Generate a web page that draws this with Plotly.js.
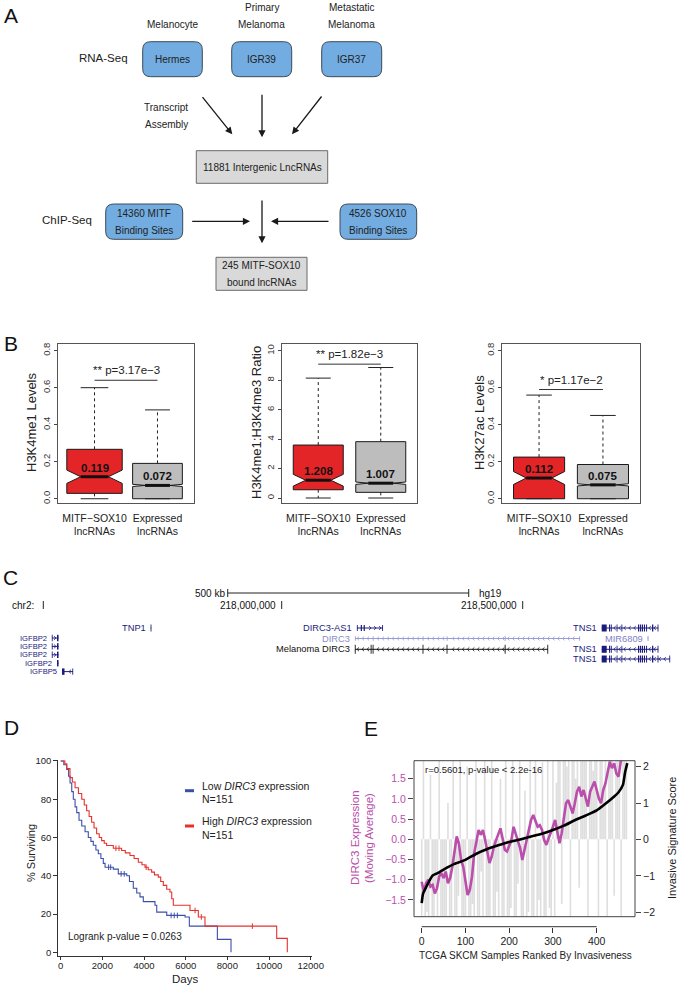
<!DOCTYPE html>
<html><head><meta charset="utf-8">
<script src="https://cdn.plot.ly/plotly-3.0.1.min.js"></script>
<style>html,body{margin:0;padding:0;background:#fff}#chart{width:680px;height:989px}</style>
</head><body><div id="chart"></div>
<script>
// ================= DATA =================
// Panel A (workflow)
const sampleTypes = ['Melanocyte', 'Primary Melanoma', 'Metastatic Melanoma'];
const cellLines = ['Hermes', 'IGR39', 'IGR37'];
const lncSets = ['11881 Intergenic LncRNAs', '245 MITF-SOX10<br>bound lncRNAs'];
const chipSets = ['14360 MITF<br>Binding Sites', '4526 SOX10<br>Binding Sites'];
const stepLabels = ['RNA-Seq', 'ChIP-Seq', 'Transcript<br>Assembly'];

// Panel B (notched box plots, summary statistics)
const boxGroups = ['MITF\u2212SOX10<br>lncRNAs', 'Expressed<br>lncRNAs'];
const bTitles = ['H3K4me1 Levels', 'H3K4me1:H3K4me3 Ratio', 'H3K27ac Levels'];
const bPvalues = ['** p=3.17e\u22123', '** p=1.82e\u22123', '* p=1.17e\u22122'];
const bMedian = [[0.119, 0.072], [1.208, 1.007], [0.112, 0.075]];
const bMedianText = [['0.119', '0.072'], ['1.208', '1.007'], ['0.112', '0.075']];
const bQ1 = [[0.029, 0.0], [0.56, 0.385], [0.0, 0.0]];
const bQ3 = [[0.267, 0.191], [3.6, 3.83], [0.225, 0.185]];
const bLower = [[0, 0], [0, 0], [0, 0]];
const bUpper = [[0.60, 0.48], [8.15, 8.87], [0.56, 0.45]];
const bNotch = [[0.036, 0.006], [0.40, 0.08], [0.035, 0.006]];
const bSigY = [0.64, 9.1, 0.59];
const bTicks = [[0, 0.2, 0.4, 0.6, 0.8], [0, 2, 4, 6, 8, 10], [0, 0.2, 0.4, 0.6, 0.8]];

// Panel C (genome browser, chr2 hg19)
const geneNames = ['IGFBP2', 'IGFBP2', 'IGFBP2', 'IGFBP2', 'IGFBP5', 'TNP1', 'DIRC3-AS1', 'DIRC3', 'Melanoma DIRC3', 'TNS1', 'MIR6809', 'TNS1', 'TNS1'];
const geneStart = [217523400, 217523400, 217523400, 217533800, 217544200, 217728300, 218156200, 218152100, 218152100, 218663900, 218759500, 218663900, 218663900];
const geneEnd = [217537000, 217537000, 217537000, 217537000, 217567000, 217729400, 218210200, 218618900, 218552500, 218781400, 218760500, 218781400, 218805600];
const geneStrand = ['+', '+', '+', '+', '-', '-', '+', '-', '-', '-', '-', '-', '-'];
const tns1Exons = [[218663900, 218674300], [218679100, 218681500], [218683000, 218684700], [218695000, 218696500], [218705000, 218706500], [218739200, 218741500], [218743000, 218745400], [218747000, 218749600], [218751500, 218753800], [218756000, 218758000], [218768300, 218771000], [218780000, 218781400]];
const geneExons = [
  [[217523400, 217524400], [217533800, 217537000]],
  [[217523400, 217524400], [217533800, 217537000]],
  [[217523400, 217524400], [217533800, 217537000]],
  [[217533800, 217537000]],
  [[217544200, 217549400], [217566000, 217567000]],
  [[217728300, 217729400]],
  [[218156200, 218157500], [218164000, 218166500], [218170000, 218172500], [218208500, 218210200]],
  [[218152100, 218153500], [218189000, 218190500], [218292500, 218294000], [218342500, 218344000], [218463000, 218464500], [218617500, 218618900]],
  [[218152100, 218153000], [218185000, 218186000], [218189000, 218190200], [218292500, 218293800], [218342500, 218343500], [218463000, 218464200], [218551500, 218552500]],
  tns1Exons,
  [[218759500, 218760500]],
  tns1Exons,
  tns1Exons.concat([[218804600, 218805600]])
];
const chromName = 'chr2:';
const chromTicks = [218000000, 218500000];
const chromTickText = ['218,000,000', '218,500,000'];
const scaleBar = {start: 217888000, length: 500000, label: '500 kb', assembly: 'hg19'};

// Panel D (Kaplan-Meier)
const kmLowDays = [0, 150, 290, 380, 450, 530, 605, 690, 770, 880, 1010, 1170, 1325, 1450, 1565, 1690, 1805, 1930, 2045, 2130, 2525, 2765, 3170, 3300, 3485, 3650, 3806, 3965, 4526, 4610, 5090, 5970, 6175, 7520, 8175];
const kmLowSurv = [100, 98, 95.5, 92, 88.5, 84, 80, 76, 73, 69, 66, 63, 60, 58, 56, 53.5, 51.5, 49, 46.5, 44.5, 43.5, 41, 40, 37, 33.5, 31, 29, 26.5, 24.6, 21, 19.3, 18.5, 13.7, 6.8, 0];
const kmHighDays = [0, 200, 290, 446, 560, 690, 850, 1010, 1130, 1245, 1365, 1485, 1600, 1725, 1850, 1965, 2090, 2205, 2525, 2925, 3100, 3325, 3525, 3725, 3900, 4045, 4200, 4365, 4500, 4685, 4800, 4925, 5090, 5245, 5330, 5405, 6206, 6606, 6926, 10368, 10877];
const kmHighSurv = [100, 98.5, 96, 91.3, 89, 86, 83, 80, 77, 74, 71, 68, 65, 62, 60, 58.4, 57, 55.8, 54.4, 53.2, 52, 50.6, 49, 47.1, 45.8, 44.5, 43.2, 41.9, 40.5, 39.3, 37, 35, 33, 31.5, 28, 24.6, 21.9, 18.5, 13.7, 7.3, 0];
const censorLowDays = [2300, 2400, 2900, 3050, 5300, 5450, 5600];
const censorLowSurv = [44.5, 44.5, 41, 41, 19.3, 19.3, 19.3];
const censorHighDays = [2650, 2800, 4100, 6450, 6750, 9200];
const censorHighSurv = [54.4, 54.4, 44.5, 21.9, 18.5, 13.7];
const kmNames = ['Low <i>DIRC3</i> expression', 'High <i>DIRC3</i> expression'];
const kmN = ['N=151', 'N=151'];
const logrankText = 'Logrank p-value = 0.0263';

// Panel E (ranked samples)
const sampleExpr = [
  -2.4, 2.2, -2.6, -1.8, -2.5, 1.6, -2.3, -2.7, -1.2, -2.4, 2.5, -2.2, -2.6, -1.9, -2.5, 0.9, -2.3, -2.6, 2.3, -2.1,
  -2.5, -1.4, 2.4, -2.6, -2.2, -2.5, 1.8, -2.4, -2.7, -1.6, -2.3, 2.6, -2.5, -2.1, -0.8, -2.4, 2.1, -2.6, -2.3, -1.9,
  2.4, -2.5, -2.2, -1.3, -2.6, 1.5, -2.4, -2.5, 2.6, -2.1, -2.3, -1.7, 2.2, -2.6, -2.4, -1.1, 2.5, -2.2, -2.5, 1.2,
  -2.4, -1.8, 2.3, -2.6, -2.1, 2.5, -2.4, -1.5, -2.3, 1.9, -2.5, -2.2, 2.6, -1.7, -2.4, 2.2, -2.6, 1.4,
  2.4, 2.6, -1.6, 2.2, 2.5, 1.8, 2.6, -2.3, 2.1, 2.4, 1.5, 2.6, -1.2, 2.3, 2.5, 2.0, 2.6, -2.4, 2.2, 2.5,
  1.7, 2.6, 2.3, -1.9, 2.5, 2.4, 1.3, 2.6, -2.2, 2.3, 2.5, 2.6, -1.4, 2.4, 2.2, 2.6, -2.5, 2.3, 2.6, 2.4];
const sampleExprStep = 4;
const movAvg = [
  -1.05, -1.3, -1.09, -1.0, -1.17, -1.13, -1.34, -1.21, -0.92, -0.84,
  -0.96, -0.80, -1.09, -0.96, -0.68, -0.35, 0.07, -0.10, -0.51, -0.68,
  -1.0, -1.38, -1.25, -0.92, -0.35, -0.02, 0.23, 0.11, 0.23, -0.02,
  -0.35, -0.59, -0.43, -0.18, -0.02, 0.15, 0.27, 0.02, -0.26, -0.30,
  -0.18, -0.02, 0.31, 0.15, -0.02, -0.22, -0.51, -0.26, -0.02, 0.23,
  0.48, 0.60, 0.44, 0.31, 0.35, 0.23, -0.02, -0.14, 0.02, 0.15,
  0.31, 0.48, 0.15, -0.10, 0.15, 0.48, 0.89, 0.97, 0.77, 0.64,
  0.89, 1.18, 1.30, 1.06, 1.22, 1.01, 0.81, 1.18, 1.30, 1.43,
  1.22, 1.01, 0.89, 1.22, 1.38, 1.63, 1.92, 1.76, 1.88, 1.63,
  1.55, 1.92, 2.13];
const movAvgStep = 5;
const invRank = [0, 3, 10, 20, 25, 40, 60, 75, 100, 125, 150, 175, 200, 225, 250, 275, 300, 325, 350, 375, 400, 420, 440, 450, 460, 465, 470];
const invScore = [-1.75, -1.49, -1.31, -1.08, -0.99, -0.90, -0.76, -0.67, -0.56, -0.39, -0.26, -0.16, -0.07, 0.0, 0.08, 0.16, 0.26, 0.38, 0.53, 0.66, 0.8, 0.98, 1.18, 1.3, 1.5, 1.85, 2.1];
const eCorrText = 'r=0.5601, p-value < 2.2e-16';
const eLeftTitle = ['DIRC3 Expression', '(Moving Average)'];
const eRightTitle = 'Invasive Signature Score';
const eXTitle = 'TCGA SKCM Samples Ranked By Invasiveness';

// ================= HELPERS =================
const W = 680, H = 989;
const PX = p => p / W, PY = p => 1 - p / H;
const hdom = (a, b) => [PX(a), PX(b)];
const vdom = (top, bot) => [PY(bot), PY(top)];
const FONT = 'Liberation Sans, Arial, sans-serif';
const NARROW = 'Liberation Sans Narrow, Arial Narrow, Liberation Sans, sans-serif';
const traces = [], shapes = [], annotations = [];
function txt(text, x, y, o) {
  const a = {text: text, x: PX(x), y: PY(y), xref: 'paper', yref: 'paper', showarrow: false,
    xanchor: 'center', yanchor: 'middle', font: {family: FONT, size: 12, color: '#222'}};
  return Object.assign(a, o || {});
}
function roundRect(x0, y0, x1, y1, r) {
  const X = PX, Y = PY;
  return `M${X(x0 + r)},${Y(y0)} L${X(x1 - r)},${Y(y0)} Q${X(x1)},${Y(y0)} ${X(x1)},${Y(y0 + r)} ` +
    `L${X(x1)},${Y(y1 - r)} Q${X(x1)},${Y(y1)} ${X(x1 - r)},${Y(y1)} L${X(x0 + r)},${Y(y1)} ` +
    `Q${X(x0)},${Y(y1)} ${X(x0)},${Y(y1 - r)} L${X(x0)},${Y(y0 + r)} Q${X(x0)},${Y(y0)} ${X(x0 + r)},${Y(y0)} Z`;
}
function arrow(tx, ty, hx, hy) {
  annotations.push({text: '', x: PX(hx), y: PY(hy), xref: 'paper', yref: 'paper', showarrow: true,
    ax: tx - hx, ay: ty - hy, axref: 'pixel', ayref: 'pixel', arrowhead: 2, arrowsize: 1.1,
    arrowwidth: 1.3, arrowcolor: '#1a1a1a'});
}
const layout = {
  width: W, height: H, margin: {l: 0, r: 0, t: 0, b: 0}, paper_bgcolor: '#fff', plot_bgcolor: 'rgba(0,0,0,0)',
  showlegend: false, hovermode: false, font: {family: FONT, size: 11, color: '#222'}, boxmode: 'overlay'
};
// panel letters
[['A', 2, 16], ['B', 2, 343], ['C', 1, 577], ['D', 2, 727], ['E', 362, 728]].forEach(l =>
  annotations.push(txt(l[0], l[1], l[2], {xanchor: 'left', font: {family: FONT, size: 21, color: '#111'}})));

// ================= PANEL A =================
const blue = '#72ace0', grayBox = '#d9d9d9';
const aFont = {family: FONT, size: 10, color: '#222'};
const cellBoxX = [[142.7, 202.3], [231.7, 291.7], [321.7, 381.7]];
cellLines.forEach((c, i) => {
  const [x0, x1] = cellBoxX[i];
  shapes.push({type: 'path', path: roundRect(x0, 41.7, x1, 76.7, 8), xref: 'paper', yref: 'paper', fillcolor: blue, line: {color: '#3d4a56', width: 1}});
  annotations.push(txt(c, (x0 + x1) / 2, 59, {font: aFont}));
  const words = sampleTypes[i].split(' ');
  words.reverse().forEach((w, k) => annotations.push(txt(w, (x0 + x1) / 2, 24.7 - 17.4 * k, {font: aFont})));
});
annotations.push(txt(stepLabels[0], 103.3, 58.3, {font: {family: FONT, size: 11.5, color: '#222'}}));
annotations.push(txt(stepLabels[1], 66.7, 220, {font: {family: FONT, size: 11.5, color: '#222'}}));
stepLabels[2].split('<br>').forEach((w, k) => annotations.push(txt(w, 166.3, 107.3 + 17.4 * k, {font: aFont})));
const chipBoxX = [[105.7, 182.7], [340, 416.7]];
chipSets.forEach((c, i) => {
  const [x0, x1] = chipBoxX[i];
  shapes.push({type: 'path', path: roundRect(x0, 204, x1, 239.3, 8), xref: 'paper', yref: 'paper', fillcolor: blue, line: {color: '#3d4a56', width: 1}});
  c.split('<br>').forEach((w, k) => annotations.push(txt(w, (x0 + x1) / 2, 213.3 + 17.4 * k, {font: aFont})));
});
const lncBox = [[196.3, 150.7, 327.7, 183.3], [216, 257.3, 307, 290.3]];
lncSets.forEach((c, i) => {
  const [x0, y0, x1, y1] = lncBox[i];
  shapes.push({type: 'rect', xref: 'paper', yref: 'paper', x0: PX(x0), x1: PX(x1), y0: PY(y1), y1: PY(y0), fillcolor: grayBox, line: {color: '#6b6b6b', width: 1}});
  const lines = c.split('<br>');
  lines.forEach((w, k) => annotations.push(txt(w, (x0 + x1) / 2, (y0 + y1) / 2 + (k - (lines.length - 1) / 2) * 17.6, {font: aFont})));
});
arrow(201.3, 95.7, 232.3, 134.3);
arrow(262, 93.3, 262, 137.3);
arrow(322.7, 95, 292, 134.3);
arrow(190.7, 221.3, 250, 221.3);
arrow(330, 221.3, 271, 221.3);
arrow(262, 199, 262, 243.3);

// ================= PANEL B =================
const bAxisPx = [[58, 194], [282, 417], [502, 640]];
const bRanges = [[-0.023, 0.836], [-0.34, 10.47], [-0.023, 0.836]];
const bBoxWidths = [[0.88, 0.79], [0.8, 0.8], [0.8, 0.8]];
const bFill = ['#e42528', '#bdbdbd'];
const bTitleX = [32, 257, 480];
for (let p = 0; p < 3; p++) {
  const sfx = p === 0 ? '' : String(p + 1);
  const xa = 'x' + sfx, ya = 'y' + sfx;
  layout['xaxis' + sfx] = {domain: hdom(bAxisPx[p][0], bAxisPx[p][1]), range: [0.42, 2.58], tickvals: [1, 2], ticktext: boxGroups,
    ticks: '', ticklabelstandoff: 5, showline: true, mirror: true, linecolor: '#555', linewidth: 1, zeroline: false, showgrid: false,
    tickfont: {family: FONT, size: 10.5, color: '#222'}, anchor: ya, fixedrange: true};
  layout['yaxis' + sfx] = {domain: vdom(344, 503), range: bRanges[p], tickvals: bTicks[p], tickformat: p === 1 ? 'd' : '.1f',
    tickangle: -90, ticks: 'outside', ticklen: 3, tickcolor: '#444', showline: true, mirror: true, linecolor: '#555', linewidth: 1,
    zeroline: false, showgrid: false, tickfont: {family: FONT, size: 9.5, color: '#333'}, anchor: xa, fixedrange: true};
  const wx = [], wy = [], cx = [], cy = [], mx = [], my = [];
  for (let g = 0; g < 2; g++) {
    const c = g + 1, w = bBoxWidths[p][g];
    traces.push({type: 'box', x: [c], q1: [bQ1[p][g]], median: [bMedian[p][g]], q3: [bQ3[p][g]],
      lowerfence: [bQ1[p][g]], upperfence: [bQ3[p][g]], notchspan: [bNotch[p][g]], notched: true, notchwidth: 0.25,
      width: w, fillcolor: bFill[g], line: {color: '#1a1a1a', width: 1}, whiskerwidth: 0, boxpoints: false,
      xaxis: xa, yaxis: ya, hoverinfo: 'skip'});
    wx.push(c, c, null, c, c, null);
    wy.push(bQ3[p][g], bUpper[p][g], null, bQ1[p][g], bLower[p][g], null);
    cx.push(c - w / 4, c + w / 4, null, c - w / 4, c + w / 4, null);
    cy.push(bUpper[p][g], bUpper[p][g], null, bLower[p][g], bLower[p][g], null);
    mx.push(c - w / 4, c + w / 4, null);
    my.push(bMedian[p][g], bMedian[p][g], null);
    annotations.push({text: '<b>' + bMedianText[p][g] + '</b>', x: c, y: bMedian[p][g], xref: xa, yref: ya, yshift: 9,
      showarrow: false, font: {family: FONT, size: 11.5, color: '#111'}});
  }
  traces.push({type: 'scatter', mode: 'lines', x: wx, y: wy, xaxis: xa, yaxis: ya, line: {color: '#222', width: 1, dash: '3px,3px'}, hoverinfo: 'skip'});
  traces.push({type: 'scatter', mode: 'lines', x: cx, y: cy, xaxis: xa, yaxis: ya, line: {color: '#222', width: 1}, hoverinfo: 'skip'});
  traces.push({type: 'scatter', mode: 'lines', x: mx, y: my, xaxis: xa, yaxis: ya, line: {color: '#111', width: 3}, hoverinfo: 'skip'});
  traces.push({type: 'scatter', mode: 'lines', x: [1, 2], y: [bSigY[p], bSigY[p]], xaxis: xa, yaxis: ya, line: {color: '#333', width: 1}, hoverinfo: 'skip'});
  annotations.push({text: bPvalues[p], x: 1.5, y: bSigY[p], xref: xa, yref: ya, yshift: 10, showarrow: false,
    font: {family: FONT, size: 11.5, color: '#222'}});
  annotations.push(txt(bTitles[p], bTitleX[p], 423, {textangle: -90, font: {family: FONT, size: 13, color: '#222'}}));
}

// ================= PANEL C =================
layout.xaxis6 = {domain: [0, 1], range: [217415560, 218826350], visible: false, fixedrange: true, anchor: 'y7'};
layout.yaxis7 = {domain: vdom(580, 685), range: [685, 580], visible: false, fixedrange: true, anchor: 'x6'};
const geneRow = [638, 646.4, 654.8, 663.2, 671.6, 628, 628, 638.5, 649.3, 628, 638.5, 649.3, 659];
const navy = '#1b1b7c';
const geneColor = geneNames.map((n, i) => i === 7 ? '#9a9ad8' : (i === 8 ? '#111' : (i === 10 ? '#8c8cd2' : navy)));
const exonHalf = [3.2, 3.2, 3.2, 3.2, 3.2, 3.5, 3, 2.3, 4.5, 3.5, 2.5, 3.5, 3.5];
function chevrons(start, end, strand, exons, row) {
  let d = '';
  const step = 10400, hw = 2100, h = 1.9;
  for (let x = start + step * 0.6; x < end - step * 0.3; x += step) {
    if (exons.some(e => x > e[0] - hw && x < e[1] + hw)) continue;
    if (strand === '-') d += `M${x + hw},${row - h}L${x - hw},${row}L${x + hw},${row + h}`;
    else d += `M${x - hw},${row - h}L${x + hw},${row}L${x - hw},${row + h}`;
  }
  return d;
}
geneNames.forEach((name, i) => {
  const row = geneRow[i], col = geneColor[i];
  traces.push({type: 'scatter', mode: 'lines', x: [geneStart[i], geneEnd[i]], y: [row, row], xaxis: 'x6', yaxis: 'y7',
    line: {color: col, width: 1}, hoverinfo: 'skip'});
  geneExons[i].forEach(e => {
    const wd = Math.max(e[1] - e[0], 1800), mid = (e[0] + e[1]) / 2;
    shapes.push({type: 'rect', xref: 'x6', yref: 'y7', x0: mid - wd / 2, x1: mid + wd / 2, y0: row - exonHalf[i], y1: row + exonHalf[i],
      fillcolor: col, line: {width: 0}});
  });
  const d = chevrons(geneStart[i], geneEnd[i], geneStrand[i], geneExons[i], row);
  if (d) shapes.push({type: 'path', path: d, xref: 'x6', yref: 'y7', line: {color: col, width: 0.8}});
  const small = i < 5;
  annotations.push({text: name, x: geneStart[i], y: row, xref: 'x6', yref: 'y7', xanchor: 'right', yanchor: 'middle',
    xshift: -3, showarrow: false, font: {family: small ? FONT : NARROW, size: small ? 7.6 : 9.3, color: i === 10 ? '#8080c8' : (i === 7 ? '#8a8acc' : col)}});
});
// chromosome ruler
const chromStart = 217505400;
shapes.push({type: 'line', xref: 'x6', yref: 'y7', x0: chromStart, x1: chromStart, y0: 601, y1: 609, line: {color: '#222', width: 1}});
annotations.push({text: chromName, x: chromStart, y: 605, xref: 'x6', yref: 'y7', xanchor: 'right', xshift: -7, showarrow: false, font: {family: NARROW, size: 10, color: '#111'}});
chromTicks.forEach((t, i) => {
  shapes.push({type: 'line', xref: 'x6', yref: 'y7', x0: t, x1: t, y0: 601, y1: 609, line: {color: '#222', width: 1}});
  annotations.push({text: chromTickText[i], x: t, y: 605, xref: 'x6', yref: 'y7', xanchor: 'right', xshift: -4, showarrow: false, font: {family: NARROW, size: 10, color: '#111'}});
});
const sb0 = scaleBar.start, sb1 = scaleBar.start + scaleBar.length;
shapes.push({type: 'line', xref: 'x6', yref: 'y7', x0: sb0, x1: sb1, y0: 593, y1: 593, line: {color: '#222', width: 1}});
shapes.push({type: 'line', xref: 'x6', yref: 'y7', x0: sb0, x1: sb0, y0: 589, y1: 597, line: {color: '#222', width: 1}});
shapes.push({type: 'line', xref: 'x6', yref: 'y7', x0: sb1, x1: sb1, y0: 589, y1: 597, line: {color: '#222', width: 1}});
annotations.push({text: scaleBar.label, x: sb0, y: 593, xref: 'x6', yref: 'y7', xanchor: 'right', xshift: -1, showarrow: false, font: {family: NARROW, size: 10, color: '#111'}});
annotations.push({text: scaleBar.assembly, x: sb1, y: 593, xref: 'x6', yref: 'y7', xanchor: 'left', xshift: 8, showarrow: false, font: {family: NARROW, size: 10, color: '#111'}});

// ================= PANEL D =================
const kmBlue = '#3b4fa8', kmRed = '#e8302c';
layout.xaxis4 = {domain: hdom(58.3, 311.7), range: [-115, 12048], tickvals: [0, 2000, 4000, 6000, 8000, 10000, 12000], tickformat: 'd',
  ticks: 'outside', ticklen: 3, ticklabelstandoff: -2, tickcolor: '#333', showline: true, linecolor: '#333', linewidth: 1, zeroline: false, showgrid: false,
  tickfont: {family: FONT, size: 9.5, color: '#222'}, anchor: 'y4', fixedrange: true};
layout.yaxis4 = {domain: vdom(760, 956), range: [-1.9, 100.5], tickvals: [0, 20, 40, 60, 80, 100], tickformat: 'd',
  ticks: 'outside', ticklen: 4, tickcolor: '#333', showline: true, linecolor: '#333', linewidth: 1, zeroline: false, showgrid: false,
  tickfont: {family: FONT, size: 9.5, color: '#222'}, anchor: 'x4', fixedrange: true};
traces.push({type: 'scatter', mode: 'lines', x: kmLowDays, y: kmLowSurv, line: {shape: 'hv', color: kmBlue, width: 1.1}, xaxis: 'x4', yaxis: 'y4', name: 'Low', hoverinfo: 'skip'});
traces.push({type: 'scatter', mode: 'lines', x: kmHighDays, y: kmHighSurv, line: {shape: 'hv', color: kmRed, width: 1.1}, xaxis: 'x4', yaxis: 'y4', name: 'High', hoverinfo: 'skip'});
traces.push({type: 'scatter', mode: 'markers', x: censorLowDays, y: censorLowSurv, marker: {symbol: 'line-ns', size: 4, line: {color: kmBlue, width: 1}}, xaxis: 'x4', yaxis: 'y4', hoverinfo: 'skip'});
traces.push({type: 'scatter', mode: 'markers', x: censorHighDays, y: censorHighSurv, marker: {symbol: 'line-ns', size: 4, line: {color: kmRed, width: 1}}, xaxis: 'x4', yaxis: 'y4', hoverinfo: 'skip'});
annotations.push(txt('% Surviving', 31, 853, {textangle: -90, font: {family: FONT, size: 11, color: '#222'}}));
annotations.push(txt('Days', 185, 979, {font: {family: FONT, size: 11.5, color: '#222'}}));
[[kmBlue, 790.7, 785.7], [kmRed, 826, 821]].forEach((l, i) => {
  shapes.push({type: 'line', xref: 'paper', yref: 'paper', x0: PX(185), x1: PX(194), y0: PY(l[1]), y1: PY(l[1]), line: {color: l[0], width: 3}});
  annotations.push(txt(kmNames[i], 200, l[2], {xanchor: 'left', font: {family: FONT, size: 10.5, color: '#222'}}));
  annotations.push(txt(kmN[i], 200, l[2] + 13.5, {xanchor: 'left', font: {family: FONT, size: 10.5, color: '#222'}}));
});
annotations.push(txt(logrankText, 66, 936, {xanchor: 'left', font: {family: FONT, size: 10, color: '#222'}}));

// ================= PANEL E =================
const pink = '#b94fab';
layout.xaxis5 = {domain: hdom(414, 635), range: [-17.6, 487.6], anchor: 'free', position: PY(926.7), tickvals: [0, 100, 200, 300, 400],
  ticks: 'outside', ticklen: 5, tickcolor: '#333', showline: false, zeroline: false, showgrid: false,
  tickfont: {family: FONT, size: 10.5, color: '#222'}, fixedrange: true};
layout.yaxis5 = {domain: vdom(760.7, 916.7), range: [-1.916, 1.945], anchor: 'x5', tickvals: [-1.5, -1, -0.5, 0, 0.5, 1, 1.5], tickformat: '.1f',
  ticks: 'outside', ticklen: 5, tickcolor: '#444', showline: false, zeroline: false, showgrid: false,
  tickfont: {family: FONT, size: 10.5, color: pink}, fixedrange: true};
layout.yaxis6 = {overlaying: 'y5', side: 'right', anchor: 'x5', range: [-2.12, 2.165], tickvals: [-2, -1, 0, 1, 2],
  ticks: 'outside', ticklen: 5, tickcolor: '#444', showline: false, zeroline: false, showgrid: false,
  tickfont: {family: FONT, size: 10.5, color: '#222'}, fixedrange: true};
traces.push({type: 'bar', x: sampleExpr.map((v, i) => i * sampleExprStep), y: sampleExpr, width: 3.6,
  marker: {color: 'rgba(195,195,195,0.55)', line: {width: 0}}, xaxis: 'x5', yaxis: 'y5', hoverinfo: 'skip'});
traces.push({type: 'scatter', mode: 'lines', x: movAvg.map((v, i) => i * movAvgStep), y: movAvg, line: {color: pink, width: 2.6},
  xaxis: 'x5', yaxis: 'y5', hoverinfo: 'skip'});
traces.push({type: 'scatter', mode: 'lines', x: invRank, y: invScore, line: {color: '#000', width: 2.6, shape: 'spline', smoothing: 0.5},
  xaxis: 'x5', yaxis: 'y6', hoverinfo: 'skip'});
shapes.push({type: 'rect', xref: 'paper', yref: 'paper', x0: PX(414), x1: PX(635), y0: PY(916.7), y1: PY(760.7), line: {color: '#444', width: 1}});
shapes.push({type: 'line', xref: 'x5', yref: 'paper', x0: 0, x1: 400, y0: PY(926.7), y1: PY(926.7), line: {color: '#333', width: 1}});
annotations.push(txt(eCorrText, 423, 769, {xanchor: 'left', font: {family: FONT, size: 9.5, color: '#222'}}));
annotations.push(txt(eLeftTitle[0], 355, 838, {textangle: -90, font: {family: FONT, size: 11.5, color: pink}}));
annotations.push(txt(eLeftTitle[1], 369, 838, {textangle: -90, font: {family: FONT, size: 11.5, color: pink}}));
annotations.push(txt(eRightTitle, 672, 838, {textangle: -90, font: {family: FONT, size: 11, color: '#222'}}));
annotations.push(txt(eXTitle, 525, 955, {font: {family: FONT, size: 10, color: '#222'}}));

layout.shapes = shapes;
layout.annotations = annotations;
Plotly.newPlot('chart', traces, layout, {displayModeBar: false, staticPlot: true});
</script>
</body></html>
